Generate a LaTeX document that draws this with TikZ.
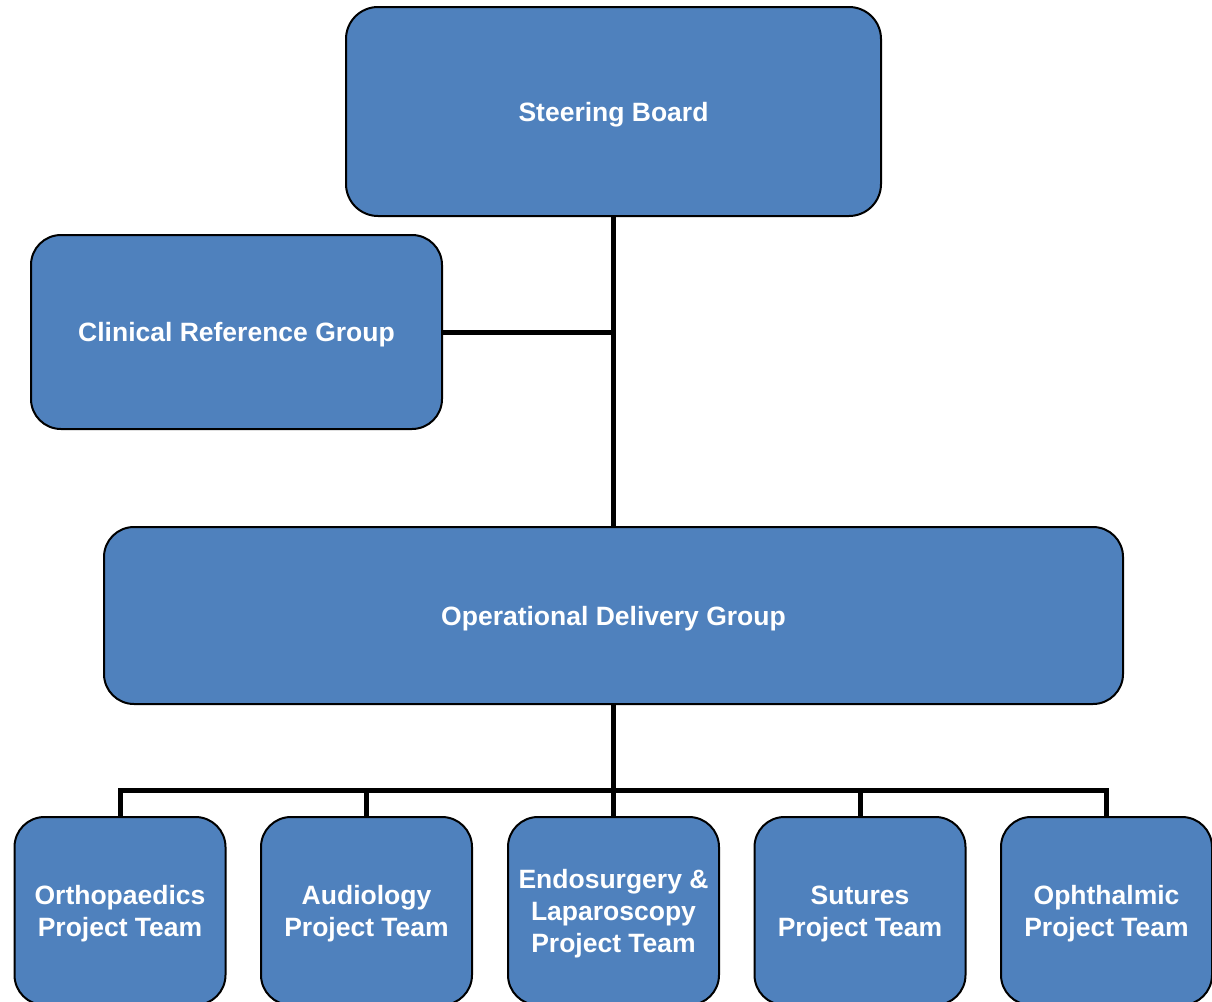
\documentclass[tikz,border=0pt]{standalone}
\usepackage{fontspec}
\setmainfont{Liberation Sans}
\definecolor{boxblue}{RGB}{79,129,189}
\begin{document}
\begin{tikzpicture}[x=1pt,y=-1pt,
  box/.style={draw=black, line width=2pt, fill=boxblue, rounded corners=32pt,
    text=white, font=\bfseries\fontsize{26.5}{32}\selectfont, align=center,
    inner sep=0pt, text depth=0pt},
  team/.style={box, minimum width=211pt, minimum height=188pt, rounded corners=30pt},
  conn/.style={draw=black, line width=5pt, line join=miter}]
\useasboundingbox (0,0) rectangle (1212,1001);
\clip (0,0) rectangle (1212,1001);
\node[box, minimum width=535pt, minimum height=209pt] (sb) at (613.5,111.5) {Steering Board};
\node[box, minimum width=411pt, minimum height=194pt, rounded corners=30pt] (crg) at (236.5,332) {Clinical Reference Group};
\node[box, minimum width=1019pt, minimum height=177pt, rounded corners=30pt] (odg) at (613.5,615.5) {Operational Delivery Group};
\node[team] (t1) at (120,911) {Orthopaedics\\Project Team};
\node[team] (t2) at (366.5,911) {Audiology\\Project Team};
\node[team] (t3) at (613.5,911) {Endosurgery \&\\Laparoscopy\\Project Team};
\node[team] (t4) at (860,911) {Sutures\\Project Team};
\node[team] (t5) at (1106.5,911) {Ophthalmic\\Project Team};
\coordinate (bus) at (613.5,790);
\draw[conn] (sb.south) -- (odg.north);
\draw[conn] (crg.east) -- (crg.east -| sb.south);
\draw[conn] (odg.south) -- (bus);
\draw[conn] (t1.north) -- (t1.north |- bus) -- (t5.north |- bus) -- (t5.north);
\draw[conn] (t2.north) -- (t2.north |- bus);
\draw[conn] (t3.north) -- (t3.north |- bus);
\draw[conn] (t4.north) -- (t4.north |- bus);
\end{tikzpicture}
\end{document}
